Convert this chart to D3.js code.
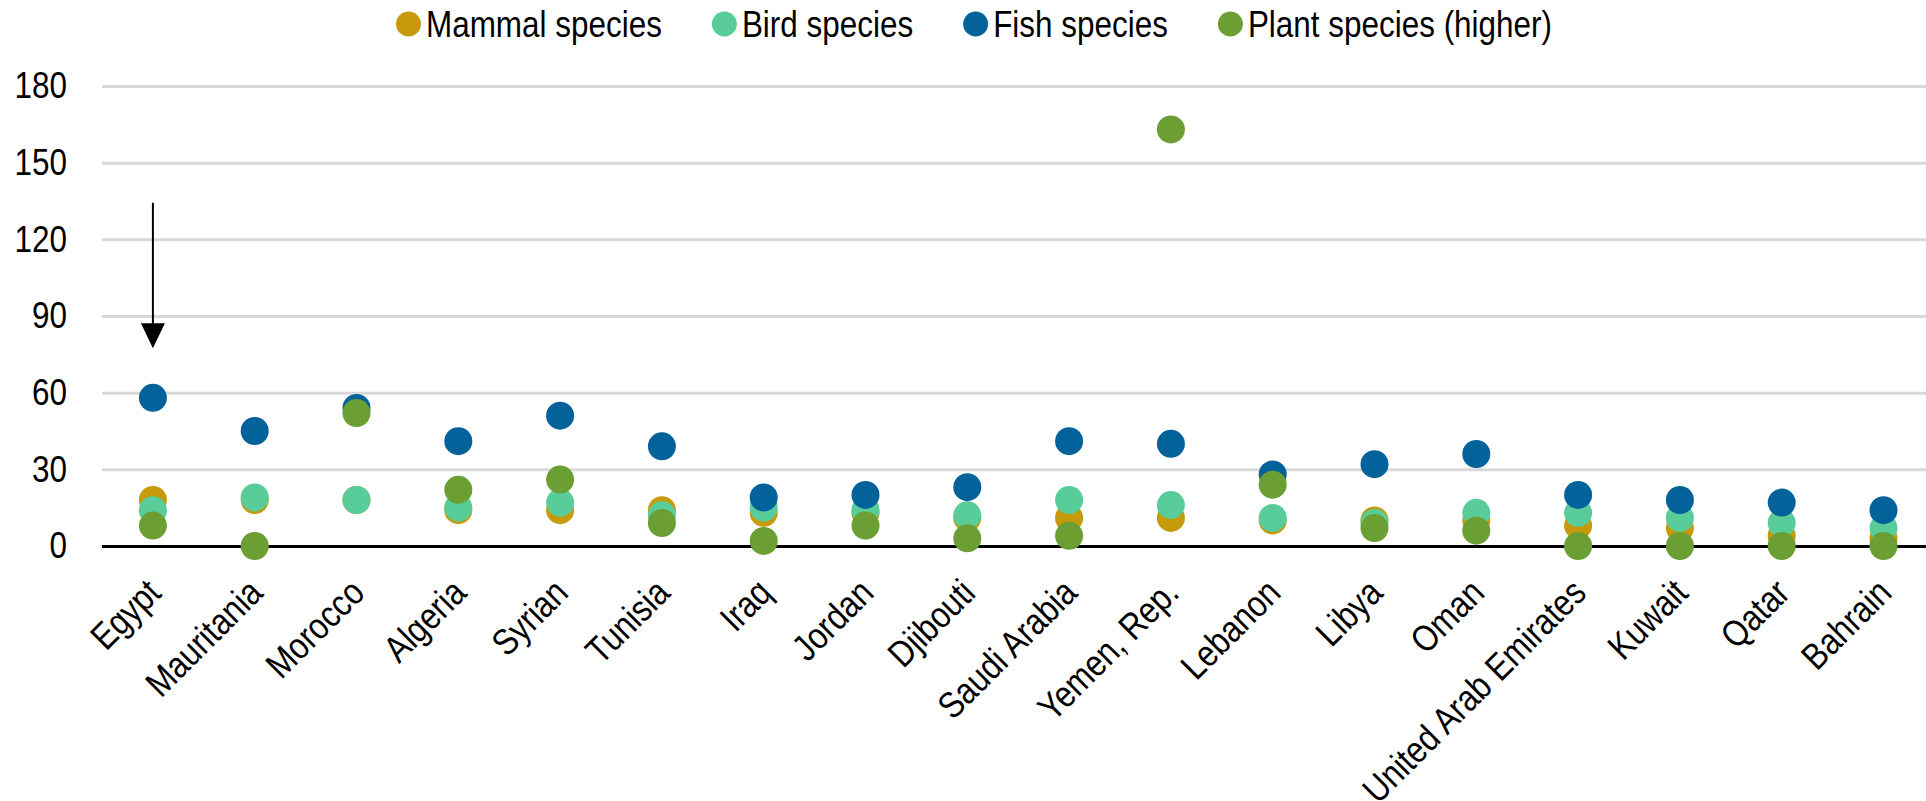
<!DOCTYPE html>
<html>
<head>
<meta charset="utf-8">
<script src="https://cdn.jsdelivr.net/npm/d3@7"></script>
<style>
  html, body { margin: 0; padding: 0; background: #fff; }
  svg { display: block; font-family: "Liberation Sans", Arial, sans-serif; }
</style>
</head>
<body>
<svg id="chart" width="1926" height="801"></svg>
<script>
// Threatened species counts by country
const countries = ["Egypt", "Mauritania", "Morocco", "Algeria", "Syrian", "Tunisia", "Iraq", "Jordan",
  "Djibouti", "Saudi Arabia", "Yemen, Rep.", "Lebanon", "Libya", "Oman", "United Arab Emirates",
  "Kuwait", "Qatar", "Bahrain"];
const mammal = [18, 18, 18, 14, 14, 14, 13, 13, 11, 11, 11, 10, 10, 10, 8, 7, 4, 3];
const bird   = [14, 19, 18, 15, 17, 12, 15, 14, 12, 18, 16, 11, 9, 13, 13, 11, 9, 7];
const fish   = [58, 45, 54, 41, 51, 39, 19, 20, 23, 41, 40, 28, 32, 36, 20, 18, 17, 14];
const plant  = [8, 0, 52, 22, 26, 9, 2, 8, 3, 4, 163, 24, 7, 6, 0, 0, 0, 0];
const seriesNames = ["Mammal species", "Bird species", "Fish species", "Plant species (higher)"];
const yTicks = [0, 30, 60, 90, 120, 150, 180];
// Annotation arrow above Egypt (value range it spans)
const arrowFrom = 134.3, arrowTo = 77.4;

const seriesValues = [mammal, bird, fish, plant];
const colors = ["#C59A0B", "#58CC99", "#04629B", "#6B9E33"];
const W = 1926;
const NARROW = 0.85;
const FONT = 37;

const svg = d3.select("#chart");

const x = d3.scaleBand().domain(countries).range([102, 102 + 18 * 101.8]).padding(0);
const y = d3.scaleLinear().domain([0, 180]).range([546, 86]);
const cx = c => x(c) + x.bandwidth() / 2;

// Horizontal gridlines and y labels
const yAxis = svg.append("g")
  .attr("transform", "translate(102,0)")
  .call(d3.axisLeft(y).tickValues(yTicks).tickSize(-(W - 102)).tickPadding(35).tickFormat(d3.format("d")));
yAxis.select(".domain").remove();
yAxis.selectAll(".tick line")
  .attr("stroke", d => d === 0 ? "#000" : "#d9d9d9")
  .attr("stroke-width", 3);
yAxis.selectAll(".tick text")
  .attr("x", 0)
  .attr("transform", "translate(-35,0) scale(" + NARROW + ",1)")
  .attr("font-size", FONT)
  .attr("font-family", "Liberation Sans, Arial, sans-serif")
  .attr("fill", "#000");
// zero line on top of the grid
yAxis.selectAll(".tick").filter(d => d === 0).raise();

// Category labels
const xAxis = svg.append("g")
  .attr("transform", "translate(0,546)")
  .call(d3.axisBottom(x).tickSize(0));
xAxis.select(".domain").remove();
xAxis.selectAll(".tick text")
  .attr("x", 0).attr("y", 0).attr("dy", 0)
  .attr("text-anchor", "end")
  .attr("transform", "translate(10,49) rotate(-45) scale(" + NARROW + ",1)")
  .attr("font-size", FONT)
  .attr("font-family", "Liberation Sans, Arial, sans-serif")
  .attr("fill", "#000");

// Dots, one layer per series
seriesValues.forEach((vals, si) => {
  svg.append("g")
    .selectAll("circle")
    .data(vals.map((v, i) => ({ c: countries[i], v })))
    .join("circle")
    .attr("cx", d => cx(d.c))
    .attr("cy", d => y(d.v))
    .attr("r", 14)
    .attr("fill", colors[si]);
});

// Arrow pointing down at Egypt
const ax = cx("Egypt");
const headLen = 25, headHalf = 12;
svg.append("line")
  .attr("x1", ax).attr("x2", ax)
  .attr("y1", y(arrowFrom)).attr("y2", y(arrowTo) - headLen + 2)
  .attr("stroke", "#000").attr("stroke-width", 2);
svg.append("path")
  .attr("d", `M${ax - headHalf},${y(arrowTo) - headLen} L${ax + headHalf},${y(arrowTo) - headLen} L${ax},${y(arrowTo)} Z`)
  .attr("fill", "#000");

// Legend
const legend = svg.append("g");
let lx = 396;
seriesNames.forEach((name, i) => {
  legend.append("circle")
    .attr("cx", lx + 12.5).attr("cy", 24).attr("r", 12.5)
    .attr("fill", colors[i]);
  const t = legend.append("text")
    .attr("transform", `translate(${lx + 30},37) scale(${NARROW},1)`)
    .attr("font-size", FONT)
    .attr("fill", "#000")
    .text(name);
  const w = t.node().getComputedTextLength() * NARROW;
  lx = lx + 30 + w + 50;
});
</script>
</body>
</html>
